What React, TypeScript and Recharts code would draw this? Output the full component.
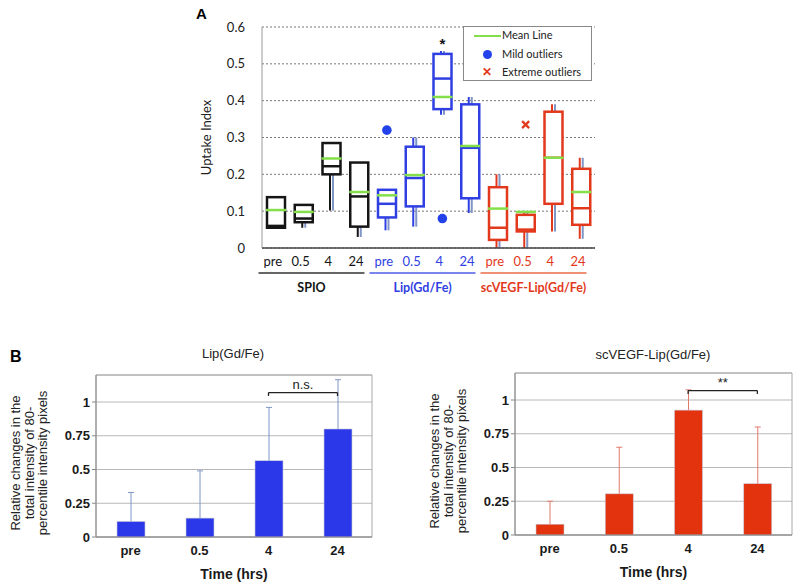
import React from 'react';
import {
  ComposedChart, BarChart, Bar, Scatter, XAxis, YAxis, CartesianGrid, Legend,
  ReferenceLine, ReferenceArea,
} from 'recharts';

// shared labels
const timePoints = ['pre', '0.5', '4', '24'];
const agents = ['SPIO', 'Lip(Gd/Fe)', 'scVEGF-Lip(Gd/Fe)'];

// panel A - box plot stats (SPIO x4, Lip x4, scVEGF-Lip x4)
const boxQ1 = [0.055, 0.07, 0.2, 0.058, 0.083, 0.113, 0.377, 0.135, 0.022, 0.045, 0.12, 0.063];
const boxQ3 = [0.138, 0.117, 0.285, 0.232, 0.158, 0.275, 0.527, 0.39, 0.165, 0.09, 0.37, 0.215];
const boxMedian = [0.06, 0.08, 0.222, 0.14, 0.12, 0.19, 0.46, 0.272, 0.055, 0.05, 0.245, 0.108];
const boxMean = [0.103, 0.098, 0.243, 0.152, 0.143, 0.198, 0.41, 0.277, 0.107, 0.098, 0.245, 0.152];
const whiskerLow = [0.055, 0.055, 0.102, 0.03, 0.048, 0.058, 0.362, 0.095, 0.0, 0.0, 0.045, 0.025];
const whiskerHigh = [0.138, 0.117, 0.285, 0.232, 0.16, 0.3, 0.535, 0.41, 0.2, 0.1, 0.39, 0.245];
const mildOutliers = [null, null, null, null, 0.32, null, 0.08, null, null, null, null, null];
const extremeOutliers = [null, null, null, null, null, null, null, null, null, 0.335, null, null];
const boxMarks = ['', '', '', '', '', '', '*', '', '', '', '', ''];
const uptakeTicks = [0, 0.1, 0.2, 0.3, 0.4, 0.5, 0.6];

// panel B - mean and upper SD
const lipMean = [0.115, 0.14, 0.565, 0.8];
const lipErr = [0.215, 0.35, 0.395, 0.365];
const vegfMean = [0.08, 0.305, 0.925, 0.38];
const vegfErr = [0.17, 0.345, 0.15, 0.42];
const relTicks = [0, 0.25, 0.5, 0.75, 1];

const agentColors = ['#151515', '#2f3fe2', '#e2391c'];
const underlineColors = ['#333333', '#4d5de6', '#ea6a44'];
const MEAN_GREEN = '#84e04a';
const WHISKER_2 = '#8094c6';

const boxData = boxQ1.map((q1, i) => ({
  id: agents[Math.floor(i / 4)] + '|' + timePoints[i % 4],
  agent: agents[Math.floor(i / 4)],
  time: timePoints[i % 4],
  color: agentColors[Math.floor(i / 4)],
  box: [q1, boxQ3[i]],
  median: boxMedian[i],
  mean: boxMean[i],
  lo: whiskerLow[i],
  hi: whiskerHigh[i],
  mild: mildOutliers[i],
  extreme: extremeOutliers[i],
  mark: boxMarks[i],
}));

const lipData = timePoints.map((t, i) => ({ time: t, mean: lipMean[i], err: lipErr[i] }));
const vegfData = timePoints.map((t, i) => ({ time: t, mean: vegfMean[i], err: vegfErr[i] }));

const BoxShape = (props: any) => {
  const { x, y, width, height, payload } = props;
  const [q1, q3] = payload.box;
  const k = height / (q3 - q1);
  const py = (v: number) => y + (q3 - v) * k;
  const cx = x + width / 2;
  const c = payload.color;
  return (
    <g>
      {payload.hi > q3 && (
        <g>
          <line x1={cx - 1.5} x2={cx - 1.5} y1={py(payload.hi)} y2={y} stroke={c} strokeWidth={2} />
          <line x1={cx + 1.5} x2={cx + 1.5} y1={py(payload.hi)} y2={y} stroke={WHISKER_2} strokeWidth={2} />
        </g>
      )}
      {payload.lo < q1 && (
        <g>
          <line x1={cx - 1.5} x2={cx - 1.5} y1={y + height} y2={py(payload.lo)} stroke={c} strokeWidth={2} />
          <line x1={cx + 1.5} x2={cx + 1.5} y1={y + height} y2={py(payload.lo)} stroke={WHISKER_2} strokeWidth={2} />
        </g>
      )}
      <rect x={x} y={y} width={width} height={height} fill="#fff" stroke={c} strokeWidth={2.5} />
      <line x1={x} x2={x + width} y1={py(payload.median)} y2={py(payload.median)} stroke={c} strokeWidth={2.5} />
      <line x1={x - 1} x2={x + width + 1} y1={py(payload.mean)} y2={py(payload.mean)} stroke={MEAN_GREEN} strokeWidth={2.5} />
      {payload.mark && (
        <text x={cx} y={py(payload.hi) - 2} textAnchor="middle" fontSize={15} fontWeight="bold" fill="#111" fontFamily="Liberation Sans">
          {payload.mark}
        </text>
      )}
    </g>
  );
};

const MildDot = (props: any) => {
  if (props.payload?.mild == null) return <g />;
  return <circle cx={props.cx} cy={props.cy} r={4.8} fill="#2342ea" />;
};

const ExtremeX = (props: any) => {
  if (props.payload?.extreme == null) return <g />;
  const { cx, cy } = props;
  const s = 3.5;
  return (
    <g stroke="#e2391c" strokeWidth={2.3}>
      <line x1={cx - s} y1={cy - s} x2={cx + s} y2={cy + s} />
      <line x1={cx - s} y1={cy + s} x2={cx + s} y2={cy - s} />
    </g>
  );
};

const TimeTick = (props: any) => {
  const { x, y, payload } = props;
  const d = boxData.find((b) => b.id === payload.value);
  if (!d) return null;
  const g = agents.indexOf(d.agent);
  return (
    <text x={x - 3} y={y + 10} textAnchor="middle" fontSize={13} fill={agentColors[g]} fontFamily="Lato">
      {d.time}
    </text>
  );
};

const AgentTick = (props: any) => {
  const { x, y, payload } = props;
  const g = agents.indexOf(payload.value);
  return (
    <g>
      <line x1={x - 59} x2={x + 47} y1={y + 3} y2={y + 3} stroke={underlineColors[g]} strokeWidth={1.5} />
      <text x={x - 6} y={y + 22} textAnchor="middle" fontSize={12.5} fontWeight="bold" fill={agentColors[g]} fontFamily="Lato">
        {payload.value}
      </text>
    </g>
  );
};

const UptakeLegend = () => (
  <div style={{ position: 'relative', width: 129, height: 55, border: '1px solid #888', background: '#fff', boxSizing: 'border-box', fontFamily: 'Lato', fontSize: 11, color: '#222' }}>
    <div style={{ position: 'absolute', left: 10, top: 8, width: 27, height: 2, background: MEAN_GREEN }} />
    <div style={{ position: 'absolute', left: 19, top: 23, width: 9, height: 9, borderRadius: 5, background: '#2342ea' }} />
    <div style={{ position: 'absolute', left: 18, top: 37, color: '#e2391c', fontWeight: 'bold', fontSize: 12 }}>✕</div>
    <div style={{ position: 'absolute', left: 38, top: 1 }}>Mean Line</div>
    <div style={{ position: 'absolute', left: 38, top: 20 }}>Mild outliers</div>
    <div style={{ position: 'absolute', left: 38, top: 38 }}>Extreme outliers</div>
  </div>
);

const uptakeLabel = (props: any) => {
  const vb = props.viewBox;
  const lx = vb.x + vb.width - 51;
  const cy = vb.y + vb.height / 2;
  return (
    <text x={lx} y={cy} transform={`rotate(-90, ${lx}, ${cy})`} textAnchor="middle" fontSize={13} fill="#222" fontFamily="Lato">
      Uptake Index
    </text>
  );
};

const relLabel = (props: any) => {
  const vb = props.viewBox;
  const right = vb.x + vb.width;
  const cy = vb.y + vb.height / 2 + 7;
  const lines = ['Relative changes in the', 'total intensity of 80-', 'percentile intensity pixels'];
  return (
    <g>
      {lines.map((t, i) => {
        const lx = right - 76 + i * 13.5;
        return (
          <text key={t} x={lx} y={cy} transform={`rotate(-90, ${lx}, ${cy})`} textAnchor="middle" fontSize={13} fill="#222" fontFamily="Liberation Sans">
            {t}
          </text>
        );
      })}
    </g>
  );
};

const makeBarShape = (errColor: string) => (props: any) => {
  const { x, y, width, height, payload, fill } = props;
  const k = height / payload.mean;
  const top = y - payload.err * k;
  const cx = x + width / 2;
  return (
    <g>
      <rect x={x} y={y} width={width} height={height} fill={fill} stroke="#c8c8d8" strokeWidth={0.6} />
      <line x1={cx} x2={cx} y1={y} y2={top} stroke={errColor} strokeWidth={1} />
      <line x1={cx - 3} x2={cx + 3} y1={top} y2={top} stroke={errColor} strokeWidth={1} />
    </g>
  );
};

const relTickStyle = { fontSize: 13, fontWeight: 'bold' as const, fill: '#1a1a1a', fontFamily: 'Liberation Sans' };

const RelChart = ({ data, color, errColor, sig, width, yWidth, margin }: any) => (
  <BarChart width={width} height={256} data={data} margin={margin} barSize={28}>
    <ReferenceArea y1={0} y2={1.2} fill="none" stroke="#a8a8a8" strokeWidth={1} ifOverflow="visible" />
    <CartesianGrid vertical={false} stroke="#b8b8b8" />
    <XAxis
      dataKey="time"
      tickLine={false}
      axisLine={{ stroke: '#8a8a8a' }}
      tick={relTickStyle}
      tickMargin={3}
      height={42}
      label={{ value: 'Time (hrs)', position: 'insideBottom', offset: 0, style: { fontSize: 14, fontWeight: 'bold', fill: '#1a1a1a', fontFamily: 'Liberation Sans' } }}
    />
    <YAxis
      width={yWidth}
      domain={[0, 1.2]}
      ticks={relTicks}
      tickFormatter={(v: number) => String(v)}
      tickLine={{ stroke: '#8a8a8a' }}
      tickSize={4}
      tickMargin={2}
      axisLine={{ stroke: '#8a8a8a' }}
      tick={relTickStyle}
      label={{ content: relLabel }}
    />
    <Bar dataKey="mean" fill={color} isAnimationActive={false} shape={makeBarShape(errColor)} />
    <ReferenceLine segment={[{ x: '4', y: 1.07 }, { x: '24', y: 1.07 }]} stroke="#222" strokeWidth={1.3}
      label={{ value: sig, position: 'top', offset: 4, style: { fontSize: 13, fill: '#222', fontFamily: 'Liberation Sans' } }} />
    <ReferenceLine segment={[{ x: '4', y: 1.07 }, { x: '4', y: 1.045 }]} stroke="#222" strokeWidth={1.3} />
    <ReferenceLine segment={[{ x: '24', y: 1.07 }, { x: '24', y: 1.045 }]} stroke="#222" strokeWidth={1.3} />
  </BarChart>
);

export default function App() {
  return (
    <div style={{ position: 'absolute', left: 0, top: 0, width: 800, height: 586, background: '#fff', overflow: 'hidden' }}>
      <div style={{ position: 'absolute', left: 196, top: 5, fontFamily: 'Liberation Sans', fontWeight: 'bold', fontSize: 15 }}>A</div>
      <div style={{ position: 'absolute', left: 0, top: 0 }}>
        <ComposedChart width={800} height={310} data={boxData} margin={{ top: 27, right: 205, bottom: 0, left: 0 }} barSize={18}>
          <CartesianGrid vertical={false} stroke="#777" strokeDasharray="2 2" />
          <XAxis dataKey="id" interval={0} tickLine={false} axisLine={{ stroke: '#444', strokeWidth: 1.5 }} height={22} tickMargin={2} tick={<TimeTick />} />
          <XAxis xAxisId="grp" dataKey="agent" type="category" allowDuplicatedCategory={false} interval={0} axisLine={false} tickLine={false} tickSize={0} tickMargin={0} height={40} tick={<AgentTick />} />
          <YAxis
            width={262}
            domain={[0, 0.6]}
            ticks={uptakeTicks}
            tickLine={false}
            tickSize={6}
            tickMargin={11}
            axisLine={{ stroke: '#999' }}
            tick={{ fontSize: 13, fill: '#222', fontFamily: 'Lato' }}
            label={{ content: uptakeLabel }}
          />
          <Bar dataKey="box" isAnimationActive={false} shape={BoxShape} />
          <Scatter dataKey="mild" isAnimationActive={false} shape={MildDot} />
          <Scatter dataKey="extreme" isAnimationActive={false} shape={ExtremeX} />
          <Legend
            layout="horizontal"
            verticalAlign="middle"
            align="center"
            content={UptakeLegend}
            wrapperStyle={{ position: 'absolute', left: 463, top: 26, width: 129, height: 55 }}
          />
        </ComposedChart>
      </div>

      <div style={{ position: 'absolute', left: 10, top: 348, fontFamily: 'Liberation Sans', fontWeight: 'bold', fontSize: 16 }}>B</div>
      <div style={{ position: 'absolute', left: 133, top: 346, width: 200, textAlign: 'center', fontFamily: 'Liberation Sans', fontSize: 13, color: '#222' }}>Lip(Gd/Fe)</div>
      <div style={{ position: 'absolute', left: 553, top: 347, width: 200, textAlign: 'center', fontFamily: 'Liberation Sans', fontSize: 13, color: '#222' }}>scVEGF-Lip(Gd/Fe)</div>

      <div style={{ position: 'absolute', left: 0, top: 330 }}>
        <RelChart data={lipData} color="#2b38ea" errColor="#7e96c6" sig="n.s." width={400} yWidth={96}
          margin={{ top: 45, right: 28, bottom: 7, left: 0 }} />
      </div>
      <div style={{ position: 'absolute', left: 400, top: 330 }}>
        <RelChart data={vegfData} color="#e2320e" errColor="#e07a6a" sig="**" width={400} yWidth={115}
          margin={{ top: 43, right: 8, bottom: 9, left: 0 }} />
      </div>
    </div>
  );
}
